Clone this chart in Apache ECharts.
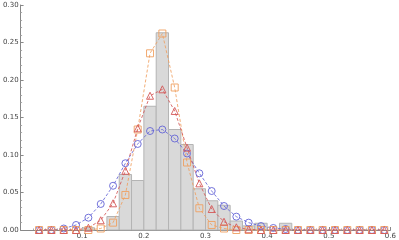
<!DOCTYPE html>
<html><head><meta charset="utf-8">
<script src="https://cdn.jsdelivr.net/npm/echarts@6/dist/echarts.min.js"></script>
<style>html,body{margin:0;padding:0;background:#fff}#c{width:399px;height:240px}</style>
</head><body><div id="c"></div>
<script>
// Histogram bins (left edge) and heights
const binStarts = [0.10,0.12,0.14,0.16,0.18,0.20,0.22,0.24,0.26,0.28,0.30,0.32,0.34,0.36,0.38,0.40,0.42];
const binHeights = [0.003,0,0.018,0.074,0.066,0.165,0.263,0.134,0.114,0.055,0.039,0.033,0.012,0.0055,0.009,0,0.009];
const binWidth = 0.02;
// Marker x positions
const xs = [0.03,0.05,0.07,0.09,0.11,0.13,0.15,0.17,0.19,0.21,0.23,0.25,0.27,0.29,0.31,0.33,0.35,0.37,0.39,0.41,0.43,0.45,0.47,0.49,0.51,0.53,0.55,0.57,0.59];
const blueVals = [0,0,0.002,0.0067,0.0164,0.0347,0.059,0.089,0.1147,0.132,0.134,0.122,0.102,0.0756,0.052,0.032,0.0178,0.0098,0.0053,0.0027,0.0013,0,0,0,0,0,0,0,0];
const redVals = [0,0,0,0,0.003,0.013,0.0356,0.079,0.1356,0.179,0.1876,0.1587,0.1098,0.0622,0.028,0.011,0.0036,0.001,0,0,0,0,0,0,0,0,0,0,0];
const orangeVals = [0,0,0,0,0,0.002,0.0098,0.0467,0.134,0.2356,0.262,0.19,0.090,0.029,0.0067,0.002,0,0,0,0,0,0,0,0,0,0,0,0,0];
const xTicks = [0.1,0.2,0.3,0.4,0.5,0.6];
const yTicks = ['0.00','0.05','0.10','0.15','0.20','0.25','0.30'];

const chart = echarts.init(document.getElementById('c'), null, {renderer:'canvas'});
const pair = (a,b)=>a.map((v,i)=>[v,b[i]]);
const histData = binStarts.map((s,i)=>[s, s+binWidth, binHeights[i]]);
function mk(name, vals, color, symbol, size){
  return {name, type:'line', data:pair(xs,vals), symbol, symbolSize:size,
    lineStyle:{color, width:1, type:[3,2], opacity:0.85},
    itemStyle:{color:'rgba(255,255,255,0)', borderColor:color, borderWidth:1, opacity:0.9},
    z:3, animation:false};
}
chart.setOption({
  animation:false,
  grid:{left:14.6, right:6, top:5, bottom:10, containLabel:false},
  xAxis:{type:'value', min:0, max:0.6, interval:0.1,
    axisLine:{onZero:false, lineStyle:{color:'#888', width:1}},
    axisTick:{show:true, inside:true, length:3, lineStyle:{color:'#888'}},
    minorTick:{show:true, splitNumber:5, length:1.5, lineStyle:{color:'#aaa'}},
    splitLine:{show:false},
    axisLabel:{fontFamily:'DejaVu Sans', fontSize:7, color:'#444', margin:3,
      formatter:v=>{const t=xTicks.find(k=>Math.abs(k-v)<1e-9); return t===undefined?'':t.toFixed(1);}}},
  yAxis:{type:'value', min:0, max:0.3, interval:0.05,
    axisLine:{show:true, lineStyle:{color:'#888', width:1}},
    axisTick:{show:true, inside:true, length:3, lineStyle:{color:'#888'}},
    minorTick:{show:true, splitNumber:5, length:1.5, lineStyle:{color:'#aaa'}},
    splitLine:{show:false},
    axisLabel:{fontFamily:'DejaVu Sans', fontSize:7, color:'#444', margin:2,
      formatter:v=>yTicks[Math.round(v/0.05)]}},
  series:[
    {type:'custom', data:histData, z:1,
      renderItem:(params, api)=>{
        if(api.value(2)<=0) return null;
        const p0 = api.coord([api.value(0), api.value(2)]);
        const p1 = api.coord([api.value(1), 0]);
        return {type:'rect', shape:{x:p0[0], y:p0[1], width:p1[0]-p0[0], height:p1[1]-p0[1]},
          style:{fill:'#d9d9d9', stroke:'#b4b4b4', lineWidth:1}};
      }},
    mk('blue', blueVals, '#6464d6', 'circle', 7),
    mk('orange', orangeVals, '#f0a060', 'rect', 7),
    mk('red', redVals, '#d45858', 'triangle', 7)
  ]
});
</script></body></html>
